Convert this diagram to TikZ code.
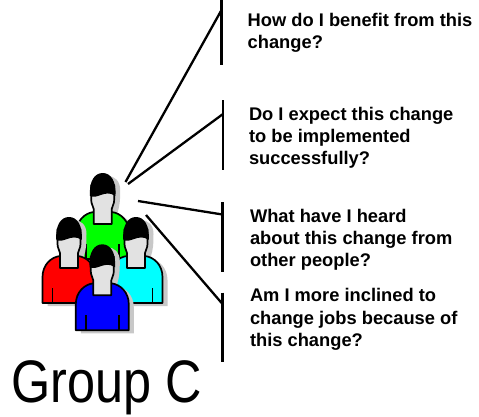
\documentclass[tikz,border=0pt]{standalone}
\usepackage{fontspec}
\setmainfont{Liberation Sans}
\definecolor{pgreen}{RGB}{0,255,0}
\definecolor{pred}{RGB}{255,0,0}
\definecolor{pcyan}{RGB}{0,255,255}
\definecolor{pblue}{RGB}{0,0,255}
\definecolor{pface}{RGB}{226,226,226}
\definecolor{pshadow}{RGB}{200,200,200}
\tikzset{
  spoke/.style={draw=black,line width=2.3pt},
  qtext/.style={anchor=north west,align=left,font=\fontsize{18.3}{22.3}\selectfont\bfseries,inner sep=0pt},
  outlined/.style={draw=black,line width=1.7pt,line join=round},
  person/.pic={
    \begin{scope}[shift={(5,3)}]
      \fill[pshadow] (-26.5,86) -- (-26.5,60) .. controls (-26.5,48) and (-18,40) .. (-10,39) -- (-10,36) .. controls (-12,30) and (-12.5,24) .. (-12.5,14) .. controls (-12.5,5) and (-7,0) .. (0,0) .. controls (7,0) and (12.5,5) .. (12.5,14) .. controls (12.5,24) and (12,30) .. (10,36) -- (10,39) .. controls (18,40) and (26.5,48) .. (26.5,60) -- (26.5,86) -- cycle;
    \end{scope}
    \path[outlined,fill=#1] (-26.5,86) -- (-26.5,60) .. controls (-26.5,48) and (-18,40) .. (-9,39) -- (9,39) .. controls (18,40) and (26.5,48) .. (26.5,60) -- (26.5,86) -- cycle;
    \draw[outlined] (-16.5,71) -- (-16.5,86) (16.5,71) -- (16.5,86);
    \path[outlined,fill=pface] (-9,51) -- (-9,36) .. controls (-9.5,33) and (-11.5,31) .. (-11.5,27) -- (-11.5,12) -- (11.5,12) -- (11.5,27) .. controls (11.5,31) and (9.5,33) .. (9,36) -- (9,51) -- cycle;
    \fill[black] (-12.7,23) .. controls (-13.8,8) and (-8,0) .. (0,0) .. controls (8,0) and (13.8,8) .. (12.7,23) .. controls (7,19) and (3,20.5) .. (-2,22) .. controls (-6,23.5) and (-9,24.5) .. (-12.7,23) -- cycle;
  }
}
\begin{document}
\begin{tikzpicture}[x=1pt,y=-1pt]
\useasboundingbox (0,0) rectangle (479,416);
\pic at (102.7,173) {person=pgreen};
\pic at (69,217) {person=pred};
\pic at (136,217) {person=pcyan};
\pic at (102.3,244.3) {person=pblue};

\coordinate (h1) at (125.5,182);
\coordinate (h2) at (128,184);
\coordinate (h3) at (138,201);
\coordinate (h4) at (146,215);
\coordinate (j1) at (221.5,10);
\coordinate (j2) at (223,114);
\coordinate (j3) at (222.5,214.5);
\coordinate (j4) at (222.5,304);
\coordinate (a1) at (221.5,0);
\coordinate (b1) at (221.5,65);
\coordinate (a2) at (223,100);
\coordinate (b2) at (223,169.5);
\coordinate (a3) at (222.5,202);
\coordinate (b3) at (222.5,271.5);
\coordinate (a4) at (222.5,292.5);
\coordinate (b4) at (222.5,362);
\draw[spoke] (h1) -- (j1);
\draw[spoke] (a1) -- (b1);
\draw[spoke] (h2) -- (j2);
\draw[spoke] (a2) -- (b2);
\draw[spoke] (h3) -- (j3);
\draw[spoke] (a3) -- (b3);
\draw[spoke] (h4) -- (j4);
\draw[spoke] (a4) -- (b4);

\node[qtext] (q1) at (247.5,12.8) {How do I benefit from this\\change?};
\node[qtext] (q2) at (248.8,106.8) {Do I expect this change\\to be implemented\\successfully?};
\node[qtext] (q3) at (249.8,208.8) {What have I heard\\about this change from\\other people?};
\node[qtext] (q4) at (249.8,288.3) {Am I more inclined to\\change jobs because of\\this change?};
\node[anchor=base west,inner sep=0pt,xscale=.84,font=\fontsize{60}{60}\selectfont] (g) at (11,402) {Group C};
\end{tikzpicture}
\end{document}
